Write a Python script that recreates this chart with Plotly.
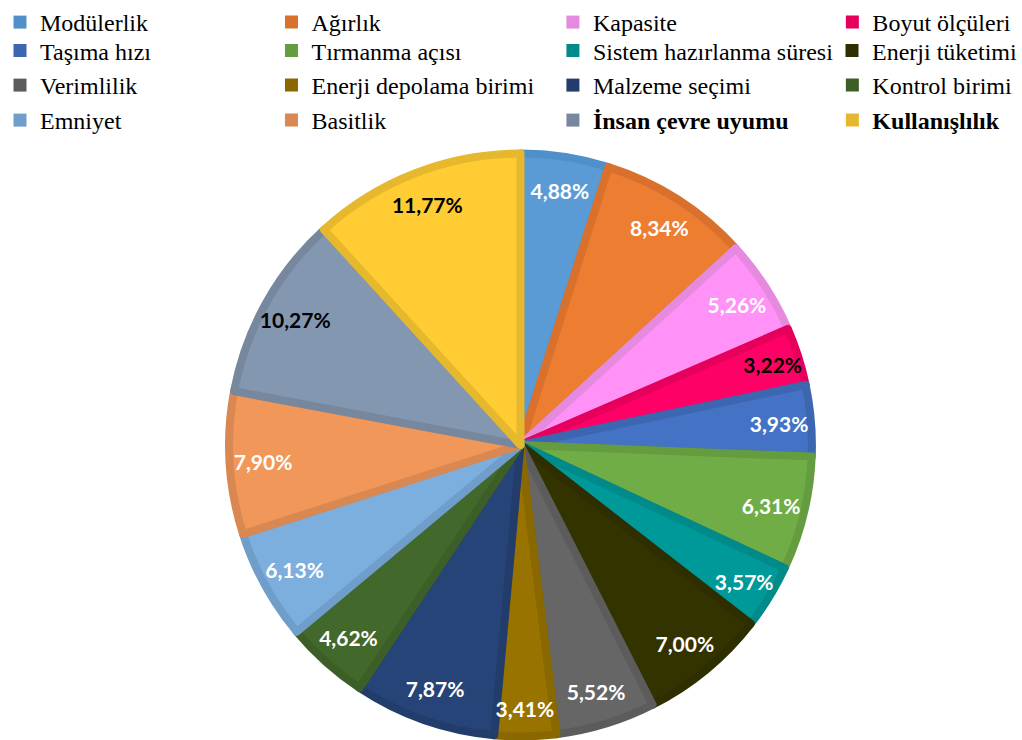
import plotly.graph_objects as go

categories = ["Modülerlik", "Ağırlık", "Kapasite", "Boyut ölçüleri",
              "Taşıma hızı", "Tırmanma açısı", "Sistem hazırlanma süresi", "Enerji tüketimi",
              "Verimlilik", "Enerji depolama birimi", "Malzeme seçimi", "Kontrol birimi",
              "Emniyet", "Basitlik", "İnsan çevre uyumu", "Kullanışlılık"]
shares = [4.88, 8.34, 5.26, 3.22, 3.93, 6.31, 3.57, 7.00,
          5.52, 3.41, 7.87, 4.62, 6.13, 7.90, 10.27, 11.77]
bold_items = ["İnsan çevre uyumu", "Kullanışlılık"]

fill_colors = ["#5B9BD5", "#ED7D31", "#FF91F7", "#FF0066",
               "#4472C4", "#70AD47", "#009999", "#333300",
               "#666666", "#997300", "#264478", "#43682B",
               "#7CAFDD", "#F1975A", "#8497B0", "#FFCC33"]
edge_colors = ["#5090CA", "#D9702C", "#E68AE0", "#E6005C",
               "#3D66B0", "#659C40", "#008A8A", "#2E2E00",
               "#5C5C5C", "#8A6800", "#223D6C", "#3C5E27",
               "#709ECA", "#D98851", "#77889E", "#E6B82E"]
dark_label_items = ["Boyut ölçüleri", "İnsan çevre uyumu", "Kullanışlılık"]

label_text = [f"{v:.2f}%".replace(".", ",") for v in shares]
label_colors = ["#000000" if c in dark_label_items else "#FFFFFF" for c in categories]

pie_domain = dict(x=[0.2246, 0.7960], y=[0.0041, 0.7932])

fig = go.Figure()
# coloured slices
fig.add_trace(go.Pie(
    labels=categories, values=shares, sort=False, direction="clockwise", rotation=0,
    textinfo="none",
    marker=dict(colors=fill_colors, line=dict(color=edge_colors, width=8)),
    domain=pie_domain, showlegend=False, hoverinfo="label+percent",
))
# percentage labels, pushed toward the rim through a transparent ring
fig.add_trace(go.Pie(
    labels=categories, values=shares, sort=False, direction="clockwise", rotation=0,
    hole=0.77,
    text=label_text, textinfo="text", textposition="inside",
    insidetextorientation="horizontal",
    textfont=dict(family="Lato", size=21, color=label_colors, weight="bold"),
    marker=dict(colors=["rgba(0,0,0,0)"] * len(shares), line=dict(width=0)),
    domain=pie_domain, showlegend=False, hoverinfo="skip",
))

n_cols = 4
col_x = [0, 272, 554, 834]
row_top = [0, 28.5, 63, 98]
for i, (cat, col) in enumerate(zip(categories, edge_colors)):
    name = f"<b>{cat}</b>" if cat in bold_items else cat
    leg = "legend" if i == 0 else f"legend{i + 1}"
    fig.add_trace(go.Scatter(
        x=[None], y=[None], mode="markers", name=name,
        marker=dict(symbol="square", size=13, color=col),
        legend=leg, showlegend=True, hoverinfo="skip",
    ))

leg_common = dict(yanchor="top", xanchor="left", orientation="v",
                  bgcolor="rgba(0,0,0,0)", borderwidth=0,
                  font=dict(family="Liberation Serif", size=24, color="#000000"),
                  itemclick=False, itemdoubleclick=False)
layout_legends = {}
for i in range(len(categories)):
    leg = "legend" if i == 0 else f"legend{i + 1}"
    r, c = divmod(i, n_cols)
    layout_legends[leg] = dict(x=col_x[c] / 1022, y=1 - row_top[r] / 740, **leg_common)

fig.update_layout(
    width=1022, height=740,
    margin=dict(l=0, r=0, t=0, b=0),
    paper_bgcolor="white", plot_bgcolor="white",
    xaxis=dict(visible=False), yaxis=dict(visible=False),
    uniformtext=dict(minsize=21, mode="show"),
    **layout_legends,
)

fig.write_html("out.html")
